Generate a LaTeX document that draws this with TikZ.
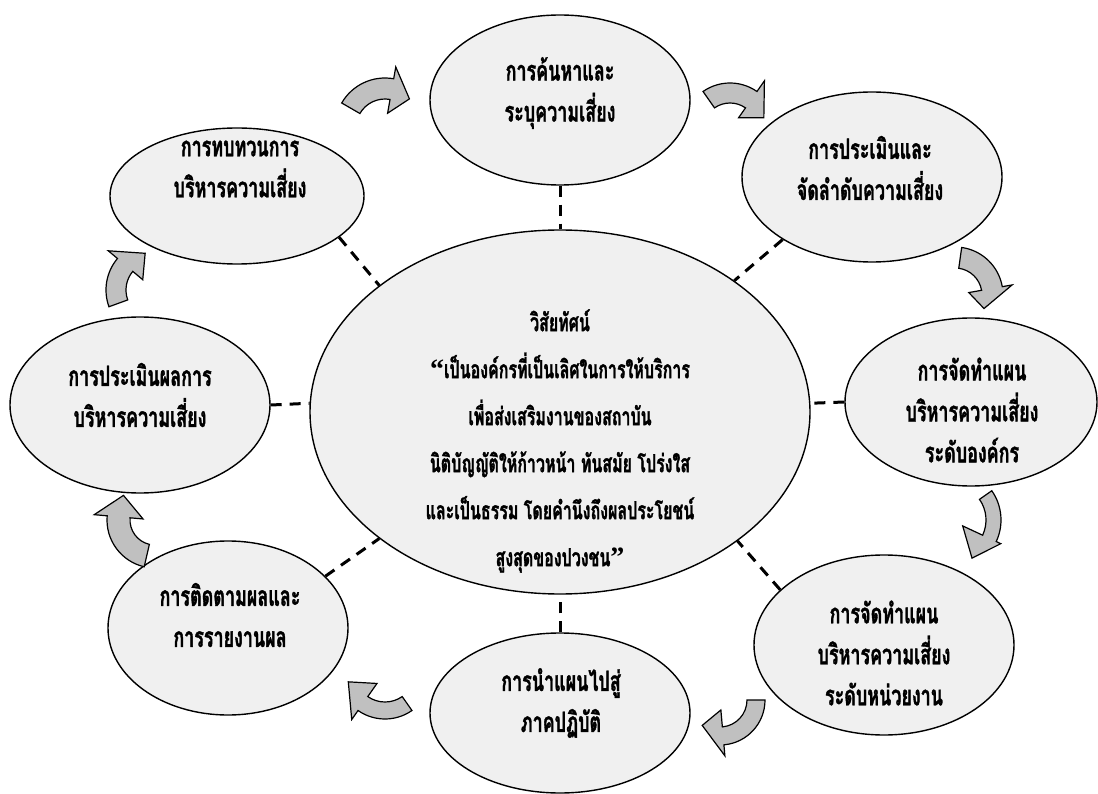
\documentclass[tikz,border=0pt]{standalone}
\usepackage{fontspec}
\newfontfamily\thai[Script=Thai, FakeStretch=0.64, BoldFeatures={FakeBold=1.2}]{Loma}
\newfontfamily\qf{Liberation Serif}
\usetikzlibrary{shapes.geometric}
\definecolor{ellfill}{RGB}{240,240,240}
\definecolor{arrfill}{RGB}{192,192,192}
\newcommand{\oq}{{\qf\bfseries\fontsize{28}{28}\selectfont “}}
\newcommand{\cq}{{\qf\bfseries\fontsize{28}{28}\selectfont ”}}
% curved block arrow: #1 centre, #2 tail angle, #3 head-base angle, #4 tip angle,
% #5 inner radius, #6 outer radius, #7 head inner radius, #8 head outer radius, #9 tip radius
\newcommand{\carr}[9]{%
  \draw[carrow, shift={#1}] (#2:#6) arc[start angle=#2, end angle=#3, radius=#6]
    -- (#3:#8) -- (#4:#9) -- (#3:#7) -- (#3:#5)
    arc[start angle=#3, end angle=#2, radius=#5] -- cycle;}
\begin{document}
\begin{tikzpicture}[x=1pt,y=-1pt,
  ell/.style={ellipse, draw, line width=1.4pt, fill=ellfill, inner sep=0pt},
  txt/.style={align=center, font=\thai\bfseries\fontsize{28}{41}\selectfont, inner sep=0pt},
  ctxt/.style={align=center, font=\thai\bfseries\fontsize{25}{47}\selectfont, inner sep=0pt},
  conn/.style={line width=3pt, dash pattern=on 11pt off 8pt},
  carrow/.style={draw, line width=1.2pt, fill=arrfill, line join=miter}]
\useasboundingbox (0,0) rectangle (1098,794);
\fill[white] (0,0) rectangle (1098,794);

% ellipses
\node[ell, minimum width=500pt, minimum height=364pt] (c) at (560,412) {};
\node[ell, minimum width=260pt, minimum height=170pt] (t) at (560,100) {};
\node[ell, minimum width=260pt, minimum height=170pt] (tr) at (872,177) {};
\node[ell, minimum width=252pt, minimum height=168pt] (r) at (971,402) {};
\node[ell, minimum width=260pt, minimum height=180pt] (br) at (884,645) {};
\node[ell, minimum width=260pt, minimum height=160pt] (b) at (560,713) {};
\node[ell, minimum width=240pt, minimum height=174pt] (bl) at (228,628) {};
\node[ell, minimum width=260pt, minimum height=176pt] (l) at (140,405) {};
\node[ell, minimum width=254pt, minimum height=136pt] (tl) at (237,196) {};

% texts
\node[ctxt] (c-txt) at (560,441) {วิสัยทัศน์\\\oq เป็นองค์กรที่เป็นเลิศในการให้บริการ\\เพื่อส่งเสริมงานของสถาบัน\\นิติบัญญัติให้ก้าวหน้า ทันสมัย โปร่งใส\\และเป็นธรรม โดยคำนึงถึงผลประโยชน์\\สูงสุดของปวงชน\cq};
\node[txt] (t-txt) at (560,93) {การค้นหาและ\\ระบุความเสี่ยง};
\node[txt] (tr-txt) at (870,168) {การประเมินและ\\จัดลำดับความเสี่ยง};
\node[txt] (r-txt) at (972,410) {การจัดทำแผน\\บริหารความเสี่ยง\\ระดับองค์กร};
\node[txt] (br-txt) at (884,653) {การจัดทำแผน\\บริหารความเสี่ยง\\ระดับหน่วยงาน};
\node[txt] (b-txt) at (561,703) {การนำแผนไปสู่\\ภาคปฏิบัติ};
\node[txt] (bl-txt) at (230,615) {การติดตามผลและ\\การรายงานผล};
\node[txt] (l-txt) at (140,395) {การประเมินผลการ\\บริหารความเสี่ยง};
\node[txt] (tl-txt) at (240,169) {การทบทวนการ\\บริหารความเสี่ยง};

% dashed connectors
\draw[conn] (t.south) -- (c.north);
\draw[conn] (tr.215) -- (c.37);
\draw[conn] (r.west) -- (c.2);
\draw[conn] (br.152) -- (c.-36);
\draw[conn] (b.north) -- (c.south);
\draw[conn] (bl.28) -- (c.215);
\draw[conn] (l.east) -- (c.178);
\draw[conn] (tl.-22) -- (c.145);

% curved block arrows (clockwise cycle)
\carr{(385,128)}{-150}{-80}{-50}{29}{50}{15}{62}{38}
\carr{(730,130)}{-125}{-55}{-20}{27}{47}{15}{60}{36}
\carr{(955,295)}{-82}{-10}{25}{27}{48}{14}{58}{32}
\carr{(950,520)}{-35}{25}{60}{36}{51}{14}{56}{44}
\carr{(720,700)}{0}{85}{125}{27}{45}{10}{56}{31}
\carr{(385,672)}{55}{125}{165}{30}{47}{14}{58}{38}
\carr{(155,520)}{103}{185}{218}{25}{48}{12}{61}{40}
\carr{(155,290)}{160}{220}{255}{29}{49}{16}{61}{38}
\end{tikzpicture}
\end{document}
